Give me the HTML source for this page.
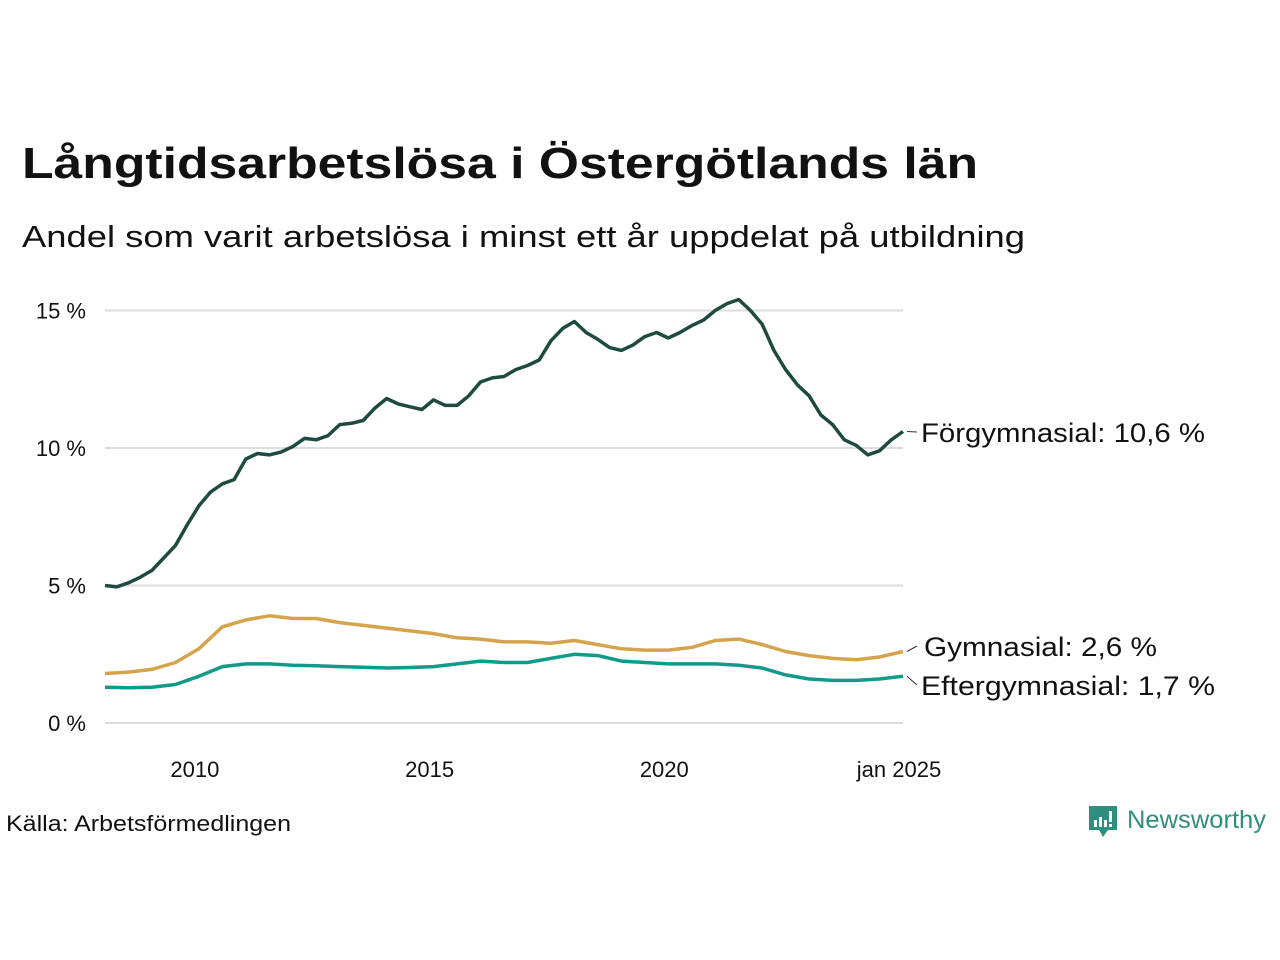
<!DOCTYPE html>
<html><head><meta charset="utf-8"><style>
html,body{margin:0;padding:0;background:#fff;}
svg{display:block;font-family:"Liberation Sans","DejaVu Sans",sans-serif;}
</style></head><body>
<svg id="chart" width="1280" height="960" viewBox="0 0 1280 960" xmlns="http://www.w3.org/2000/svg">
<text x="22" y="178" font-size="44" font-weight="bold" fill="#111" textLength="956" lengthAdjust="spacingAndGlyphs">Långtidsarbetslösa i Östergötlands län</text>
<text x="22" y="247" font-size="31" fill="#111" textLength="1003" lengthAdjust="spacingAndGlyphs">Andel som varit arbetslösa i minst ett år uppdelat på utbildning</text>
<g id="grid"></g>
<g id="yticks"></g>
<g id="xticks"></g>
<g id="series"></g>
<g id="labels"></g>
<text x="6" y="831" font-size="22" fill="#111" textLength="285" lengthAdjust="spacingAndGlyphs">Källa: Arbetsförmedlingen</text>
<g>
<path d="M1089 806h28v24h-9l-5 7-4-7h-10z" fill="#2e8f7e"/>
<rect x="1094" y="820" width="3" height="7" fill="#fff"/><rect x="1099" y="817" width="3" height="10" fill="#fff"/><rect x="1104" y="820" width="3" height="7" fill="#fff"/><rect x="1109" y="811" width="3" height="11" fill="#fff"/><rect x="1109" y="824" width="3" height="3" fill="#fff"/>
<text x="1127" y="828" font-size="25" fill="#2e8f7e" textLength="139" lengthAdjust="spacingAndGlyphs">Newsworthy</text>
</g>
</svg>
<script>
const yTicks=[0,5,10,15];
const yTickLabels=["0 %","5 %","10 %","15 %"];
const xTicks=[2010,2015,2020,2025];
const xTickLabels=["2010","2015","2020","jan 2025"];
// quarterly Jan 2008 .. Jan 2025
const forgym=[5.0,4.95,5.1,5.3,5.55,6.0,6.45,7.2,7.9,8.4,8.7,8.85,9.6,9.8,9.75,9.85,10.05,10.35,10.3,10.45,10.85,10.9,11.0,11.45,11.8,11.6,11.5,11.4,11.75,11.55,11.55,11.9,12.4,12.55,12.6,12.85,13.0,13.2,13.9,14.35,14.6,14.2,13.95,13.65,13.55,13.75,14.05,14.2,14.0,14.2,14.45,14.65,15.0,15.25,15.4,15.0,14.5,13.55,12.85,12.3,11.9,11.2,10.85,10.3,10.1,9.75,9.9,10.3,10.6];
// semiannual Jan 2008 .. Jan 2025
const gym=[1.8,1.85,1.95,2.2,2.7,3.5,3.75,3.9,3.8,3.8,3.65,3.55,3.45,3.35,3.25,3.1,3.05,2.95,2.95,2.9,3.0,2.85,2.7,2.65,2.65,2.75,3.0,3.05,2.85,2.6,2.45,2.35,2.3,2.4,2.6];
const eftergym=[1.3,1.28,1.3,1.4,1.7,2.05,2.15,2.15,2.1,2.08,2.05,2.03,2.0,2.02,2.05,2.15,2.25,2.2,2.2,2.35,2.5,2.45,2.25,2.2,2.15,2.15,2.15,2.1,2.0,1.75,1.6,1.55,1.55,1.6,1.7];
const seriesNames=["Förgymnasial: 10,6 %","Gymnasial:  2,6 %","Eftergymnasial:  1,7 %"];
const NS="http://www.w3.org/2000/svg";
const x0=105,x1=903;
function xs(t){return x0+(t-2008)/(2025-2008)*(x1-x0);}
function ys(v){return 723-v*27.5;}
function mk(tag,attrs,parent){const e=document.createElementNS(NS,tag);for(const k in attrs)e.setAttribute(k,attrs[k]);document.getElementById(parent).appendChild(e);return e;}
yTicks.forEach((v,i)=>{
 const l=mk('line',{x1:x0,x2:x1,y1:ys(v),y2:ys(v),stroke:'#dcdcdc','stroke-width':2},'grid');
 
 
 const t=mk('text',{x:86,y:ys(v)+8,'font-size':22,'text-anchor':'end',fill:'#111'},'yticks');
 t.textContent=yTickLabels[i];
 
 
});
xTicks.forEach((v,i)=>{
 const t=mk('text',{x:xs(v)-4,y:777,'font-size':22,'text-anchor':'middle',fill:'#111'},'xticks');
 t.textContent=xTickLabels[i];
 
 
});
function draw(arr,step,color,name){
 const pts=arr.map((v,i)=>xs(2008+i*step).toFixed(1)+','+ys(v).toFixed(1)).join(' ');
 const p=mk('polyline',{points:pts,fill:'none',stroke:color,'stroke-width':3.5,'stroke-linejoin':'round'},'series');
 
 
}
draw(forgym,0.25,'#1f4a40','line-forgymnasial');
draw(gym,0.5,'#d4a44c','line-gymnasial');
draw(eftergym,0.5,'#119a8a','line-eftergymnasial');
const labY=[442,656,695];
const labX=[921,924,921];
const labW=[284,233,294];
const ends=[forgym[forgym.length-1],gym[gym.length-1],eftergym[eftergym.length-1]];
seriesNames.forEach((n,i)=>{
 const l=mk('line',{x1:907,y1:ys(ends[i]),x2:917,y2:labY[i]-10,stroke:'#333','stroke-width':1},'labels');
 
 
 const t=mk('text',{x:labX[i],y:labY[i],'font-size':27,fill:'#111',textLength:labW[i],lengthAdjust:'spacingAndGlyphs'},'labels');
 t.textContent=n;
 
 
});
</script>
</body></html>
